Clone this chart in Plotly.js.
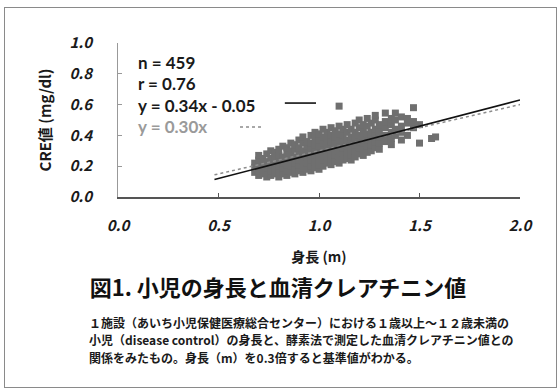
<!DOCTYPE html>
<html>
<head>
<meta charset="utf-8">
<script src="https://cdn.plot.ly/plotly-3.0.1.min.js"></script>
<style>
html,body{margin:0;padding:0;background:#fff;}
#wrap{position:relative;width:560px;height:392px;}
#chart{width:560px;height:392px;}
#frame{position:absolute;left:4px;top:7px;width:553px;height:381px;border:1.5px solid #8a8a8a;pointer-events:none;box-sizing:border-box;}
</style>
</head>
<body>
<div id="wrap"><div id="chart"></div><div id="frame"></div></div>
<script>
// Height (m) of each child and serum creatinine (mg/dl)
const heightM = [
0.68,0.68,0.68,
0.70,0.70,0.70,0.70,0.70,
0.72,0.72,0.72,0.72,
0.74,0.74,0.74,0.74,0.74,
0.76,0.76,0.76,0.76,0.76,
0.78,0.78,0.78,0.78,0.78,
0.80,0.80,0.80,0.80,0.80,0.80,
0.82,0.82,0.82,0.82,0.82,
0.84,0.84,0.84,0.84,0.84,0.84,
0.86,0.86,0.86,0.86,0.86,0.86,
0.88,0.88,0.88,0.88,0.88,0.88,
0.90,0.90,0.90,0.90,0.90,0.90,
0.92,0.92,0.92,0.92,0.92,0.92,0.92,
0.94,0.94,0.94,0.94,0.94,0.94,
0.96,0.96,0.96,0.96,0.96,0.96,0.96,
0.98,0.98,0.98,0.98,0.98,0.98,0.98,
1.00,1.00,1.00,1.00,1.00,1.00,1.00,
1.02,1.02,1.02,1.02,1.02,1.02,1.02,
1.04,1.04,1.04,1.04,1.04,1.04,
1.06,1.06,1.06,1.06,1.06,1.06,1.06,
1.08,1.08,1.08,1.08,1.08,1.08,
1.10,1.10,1.10,1.10,1.10,1.10,1.10,1.10,
1.12,1.12,1.12,1.12,1.12,1.12,
1.14,1.14,1.14,1.14,1.14,1.14,
1.16,1.16,1.16,1.16,1.16,1.16,
1.18,1.18,1.18,1.18,1.18,1.18,
1.20,1.20,1.20,1.20,1.20,1.20,
1.22,1.22,1.22,1.22,1.22,1.22,
1.24,1.24,1.24,1.24,1.24,1.24,
1.26,1.26,1.26,1.26,1.26,
1.28,1.28,1.28,1.28,1.28,1.28,
1.30,1.30,1.30,1.30,1.30,
1.33,1.33,1.33,1.33,1.33,
1.36,1.36,1.36,1.36,1.36,
1.38,1.38,1.38,1.38,
1.41,1.41,1.41,1.41,
1.44,1.44,1.44,
1.47,1.47,1.47,
1.50,1.50,
1.56,
1.58
];
const creMgDl = [
0.16,0.19,0.22,
0.14,0.17,0.20,0.24,0.27,
0.15,0.18,0.21,0.25,
0.13,0.16,0.19,0.23,0.28,
0.14,0.17,0.21,0.25,0.30,
0.15,0.18,0.22,0.26,0.29,
0.13,0.16,0.20,0.24,0.27,0.31,
0.15,0.19,0.22,0.26,0.33,
0.14,0.17,0.21,0.25,0.29,0.32,
0.16,0.20,0.23,0.27,0.30,0.35,
0.15,0.18,0.22,0.26,0.31,0.34,
0.17,0.21,0.24,0.28,0.32,0.37,
0.16,0.19,0.23,0.27,0.30,0.35,0.39,
0.18,0.22,0.26,0.29,0.33,0.36,
0.17,0.20,0.24,0.28,0.31,0.35,0.40,
0.19,0.23,0.27,0.30,0.34,0.38,0.42,
0.18,0.21,0.25,0.29,0.33,0.37,0.41,
0.20,0.24,0.28,0.31,0.35,0.39,0.44,
0.22,0.26,0.30,0.34,0.38,0.42,
0.21,0.25,0.29,0.33,0.36,0.40,0.45,
0.23,0.27,0.31,0.35,0.39,0.43,
0.22,0.26,0.30,0.34,0.37,0.41,0.46,0.59,
0.24,0.28,0.32,0.36,0.40,0.44,
0.25,0.29,0.33,0.37,0.42,0.47,
0.24,0.27,0.31,0.35,0.39,0.44,
0.26,0.30,0.34,0.38,0.42,0.48,
0.28,0.32,0.36,0.40,0.45,0.50,
0.27,0.31,0.35,0.39,0.43,0.47,
0.29,0.33,0.37,0.41,0.46,0.51,
0.30,0.34,0.38,0.42,0.48,
0.32,0.36,0.40,0.44,0.50,0.53,
0.31,0.35,0.39,0.43,0.47,
0.36,0.40,0.45,0.49,0.545,
0.34,0.38,0.42,0.47,0.51,
0.40,0.44,0.50,0.545,
0.37,0.42,0.46,0.52,
0.40,0.48,0.51,
0.45,0.49,0.58,
0.35,0.47,
0.38,
0.39
];
// Regression line y = 0.34x - 0.05 and reference line y = 0.30x (end points)
const fitX = [0.48, 2.0];
const fitY = [0.113, 0.63];
const refX = [0.48, 2.0];
const refY = [0.144, 0.60];
const xTicks = [0, 0.5, 1.0, 1.5, 2.0];
const xTickText = ['0.0','0.5','1.0','1.5','2.0'];
const yTicks = [0, 0.2, 0.4, 0.6, 0.8, 1.0];
const yTickText = ['0.0','0.2','0.4','0.6','0.8','1.0'];
const statLines = ['n = 459', 'r = 0.76', 'y = 0.34x - 0.05', 'y = 0.30x'];
const figTitle = '図1. 小児の身長と血清クレアチニン値';
const captionLines = [
  '１施設（あいち小児保健医療総合センター）における１歳以上～１２歳未満の',
  '小児（disease control）の身長と、酵素法で測定した血清クレアチニン値との',
  '関係をみたもの。身長（m）を0.3倍すると基準値がわかる。'
];

const FONT = '"Noto Sans CJK JP", "Noto Sans", sans-serif';
const LFONT = 'Lato, "Noto Sans", sans-serif';

const traces = [
  {x: heightM, y: creMgDl, type: 'scatter', mode: 'markers',
   marker: {symbol: 'square', size: 7, color: '#6f6f6f'}, hoverinfo: 'skip'},
  {x: refX, y: refY, type: 'scatter', mode: 'lines',
   line: {color: '#8c8c8c', width: 1.5, dash: 'dot'}},
  {x: fitX, y: fitY, type: 'scatter', mode: 'lines',
   line: {color: '#111', width: 1.6}}
];

const statFont = {family: LFONT, size: 17, weight: 700, color: '#1a1a1a'};
const annotations = [
  {x: 0.095, y: 0.875, text: statLines[0]},
  {x: 0.095, y: 0.735, text: statLines[1]},
  {x: 0.095, y: 0.595, text: statLines[2]},
  {x: 0.095, y: 0.455, text: statLines[3], color: '#9a9a9a'}
].map(a => ({x: a.x, y: a.y, xref: 'x', yref: 'y', text: a.text, showarrow: false,
  xanchor: 'left', yanchor: 'middle', borderpad: 0,
  font: Object.assign({}, statFont, a.color ? {color: a.color} : {})}));

const capY = [-0.8117, -0.9253, -1.039];
captionLines.forEach((t, i) => annotations.push({
  x: -0.075, y: capY[i], xref: 'paper', yref: 'paper', text: t, showarrow: false,
  xanchor: 'left', yanchor: 'middle', borderpad: 0,
  font: {family: FONT, size: 12, weight: 700, color: '#1a1a1a'}
}));

const layout = {
  width: 560, height: 392,
  margin: {l: 118, r: 40, t: 43, b: 195},
  paper_bgcolor: '#fff', plot_bgcolor: '#fff',
  showlegend: false,
  font: {family: FONT, color: '#1a1a1a'},
  title: {text: figTitle, x: 278/560, xanchor: 'center', y: 1 - 288/392, yanchor: 'middle',
    yref: 'container', xref: 'container',
    font: {family: FONT, size: 22, weight: 700, color: '#111'}},
  xaxis: {range: [0, 2], tickvals: xTicks, ticktext: xTickText,
    showgrid: false, zeroline: false, showline: true, linecolor: '#555', linewidth: 1.5,
    ticks: 'inside', ticklen: 4, tickcolor: '#555', ticklabelstandoff: 14,
    tickfont: {family: FONT, size: 15, weight: 700, style: 'italic', color: '#1a1a1a'},
    title: {text: '身長 (m)', standoff: 18, font: {family: FONT, size: 14, weight: 700, color: '#1a1a1a'}}},
  yaxis: {range: [0, 1], tickvals: yTicks, ticktext: yTickText,
    showgrid: false, zeroline: false, showline: true, linecolor: '#999', linewidth: 1,
    ticks: 'inside', ticklen: 4, tickcolor: '#999', ticklabelstandoff: 22,
    tickfont: {family: FONT, size: 15, weight: 700, style: 'italic', color: '#1a1a1a'},
    title: {text: 'CRE値 (mg/dl)', standoff: 14, font: {family: FONT, size: 15, weight: 700, color: '#1a1a1a'}}},
  shapes: [
    {type: 'line', xref: 'x', yref: 'y', x0: 0.83, x1: 0.985, y0: 0.61, y1: 0.61,
     line: {color: '#111', width: 1.6}},
    {type: 'line', xref: 'x', yref: 'y', x0: 0.607, x1: 0.72, y0: 0.455, y1: 0.455,
     line: {color: '#8c8c8c', width: 1.5, dash: 'dot'}}
  ],
  annotations: annotations
};

Plotly.newPlot('chart', traces, layout, {displayModeBar: false, staticPlot: true});
</script>
</body>
</html>
